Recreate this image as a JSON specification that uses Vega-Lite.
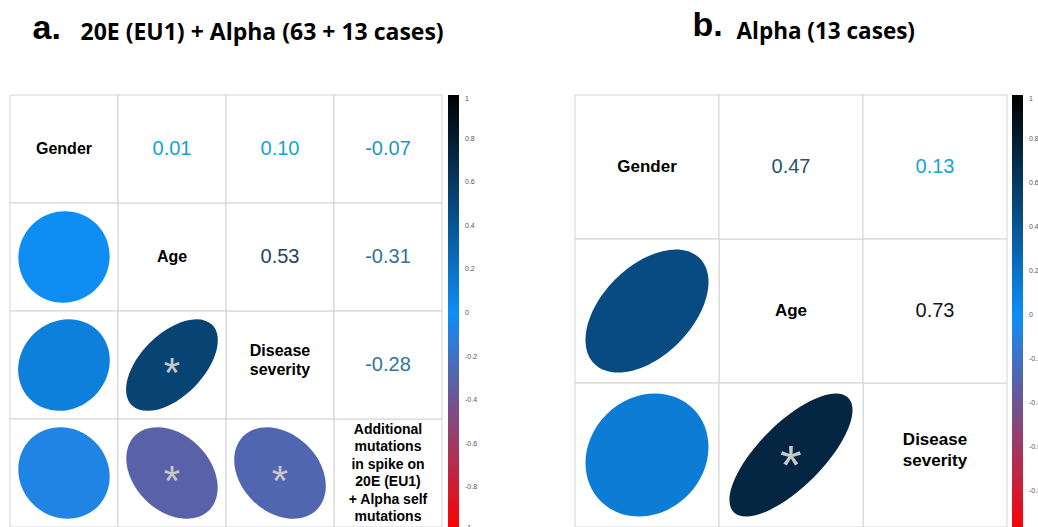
{
  "$schema": "https://vega.github.io/schema/vega-lite/v6.json",
  "background": "white",
  "padding": {"left": 9, "top": 9, "right": 0, "bottom": 0},
  "config": {
    "view": {"stroke": null},
    "locale": {"number": {"decimal": ".", "thousands": ",", "grouping": [3], "currency": ["$", ""], "minus": "-"}}
  },
  "datasets": {
    "a": [
      {"row": "Gender", "col": "Gender", "part": "diag", "label": "Gender"},
      {"row": "Age", "col": "Age", "part": "diag", "label": "Age"},
      {"row": "Disease", "col": "Disease", "part": "diag2", "label": "Disease\nseverity"},
      {"row": "Additional", "col": "Additional", "part": "long", "label": "Additional\nmutations\nin spike on\n20E (EU1)\n+ Alpha self\nmutations"},
      {"row": "Gender", "col": "Age", "part": "upper", "r": 0.01},
      {"row": "Gender", "col": "Disease", "part": "upper", "r": 0.10},
      {"row": "Gender", "col": "Additional", "part": "upper", "r": -0.07},
      {"row": "Age", "col": "Disease", "part": "upper", "r": 0.53},
      {"row": "Age", "col": "Additional", "part": "upper", "r": -0.31},
      {"row": "Disease", "col": "Additional", "part": "upper", "r": -0.28},
      {"row": "Age", "col": "Gender", "part": "lower", "r": 0.01, "sig": false},
      {"row": "Disease", "col": "Gender", "part": "lower", "r": 0.10, "sig": false},
      {"row": "Additional", "col": "Gender", "part": "lower", "r": -0.07, "sig": false},
      {"row": "Disease", "col": "Age", "part": "lower", "r": 0.53, "sig": true},
      {"row": "Additional", "col": "Age", "part": "lower", "r": -0.31, "sig": true},
      {"row": "Additional", "col": "Disease", "part": "lower", "r": -0.28, "sig": true}
    ],
    "b": [
      {"row": "Gender", "col": "Gender", "part": "diag", "label": "Gender"},
      {"row": "Age", "col": "Age", "part": "diag", "label": "Age"},
      {"row": "Disease", "col": "Disease", "part": "diag2", "label": "Disease\nseverity"},
      {"row": "Gender", "col": "Age", "part": "upper", "r": 0.47},
      {"row": "Gender", "col": "Disease", "part": "upper", "r": 0.13},
      {"row": "Age", "col": "Disease", "part": "upper", "r": 0.73},
      {"row": "Age", "col": "Gender", "part": "lower", "r": 0.47, "sig": false},
      {"row": "Disease", "col": "Gender", "part": "lower", "r": 0.13, "sig": false},
      {"row": "Disease", "col": "Age", "part": "lower", "r": 0.73, "sig": true}
    ]
  },
  "hconcat": [
    {
      "title": {"text": "a.", "font": "Liberation Sans", "fontSize": 34, "fontWeight": "bold", "anchor": "start", "dx": 23, "dy": 51, "offset": 0, "baseline": "alphabetic", "color": "#000000"},
      "resolve": {"scale": {"fill": "independent", "color": "independent", "shape": "independent"}, "legend": {"fill": "independent"}},
      "vconcat": [
        {
          "title": {"text": "20E (EU1) + Alpha (63 + 13 cases)", "font": "Open Sans", "fontSize": 23, "fontWeight": "bold", "anchor": "start", "dx": 71, "offset": 32, "baseline": "alphabetic", "color": "#000000"},
          "width": 432,
          "height": 432,
          "data": {"name": "a"},
          "encoding": {
            "x": {"field": "col", "type": "nominal", "scale": {"domain": ["Gender", "Age", "Disease", "Additional"], "paddingInner": 0, "paddingOuter": 0}, "axis": null},
            "y": {"field": "row", "type": "nominal", "scale": {"domain": ["Gender", "Age", "Disease", "Additional"], "paddingInner": 0, "paddingOuter": 0}, "axis": null}
          },
          "layer": [
            {"mark": {"type": "rect", "fill": "#ffffff", "stroke": "#d4d4d4", "strokeWidth": 1}},
            {
              "transform": [{"filter": "datum.part == 'lower'"}],
              "mark": {"type": "point", "filled": true, "size": 8464, "opacity": 1, "strokeWidth": 0},
              "encoding": {
                "shape": {"field": "r", "type": "nominal", "legend": null, "scale": {
                  "domain": [0.01, 0.1, -0.07, 0.53, -0.31, -0.28],
                  "range": [
                    "M -0.7106 0.7106 A 1.005 0.995 -45 0 1 0.7106 -0.7106 A 1.005 0.995 -45 0 1 -0.7106 0.7106 Z",
                    "M -0.7416 0.7416 A 1.0488 0.9487 -45 0 1 0.7416 -0.7416 A 1.0488 0.9487 -45 0 1 -0.7416 0.7416 Z",
                    "M -0.7314 -0.7314 A 1.0344 0.9644 45 0 1 0.7314 0.7314 A 1.0344 0.9644 45 0 1 -0.7314 -0.7314 Z",
                    "M -0.8746 0.8746 A 1.2369 0.6856 -45 0 1 0.8746 -0.8746 A 1.2369 0.6856 -45 0 1 -0.8746 0.8746 Z",
                    "M -0.8093 -0.8093 A 1.1446 0.8307 45 0 1 0.8093 0.8093 A 1.1446 0.8307 45 0 1 -0.8093 -0.8093 Z",
                    "M -0.8 -0.8 A 1.1314 0.8485 45 0 1 0.8 0.8 A 1.1314 0.8485 45 0 1 -0.8 -0.8 Z"
                  ]}},
                "fill": {"field": "r", "type": "quantitative", "scale": {"domain": [-1, 0, 1], "range": ["#ff0000", "#0e8ef5", "#000000"], "interpolate": "rgb"},
                  "legend": {"title": null, "direction": "vertical", "orient": "right", "offset": 6, "padding": 0, "gradientLength": 436, "gradientThickness": 11, "gradientStrokeWidth": 0, "values": [1, 0.8, 0.6, 0.4, 0.2, 0, -0.2, -0.4, -0.6, -0.8, -1], "format": ".1~f", "labelFontSize": 7, "labelColor": "#555555", "labelFont": "Liberation Sans", "labelOffset": 6}}
              }
            },
            {
              "transform": [{"filter": "datum.part == 'upper'"}],
              "mark": {"type": "text", "font": "Liberation Sans", "fontSize": 20, "baseline": "middle", "align": "center"},
              "encoding": {
                "text": {"field": "r", "type": "quantitative", "format": ".2f"},
                "color": {"field": "r", "type": "quantitative", "legend": null, "scale": {"domain": [-1, -0.3, 0, 0.15, 0.5, 0.75, 1], "range": ["#333333", "#34729c", "#14a2d4", "#14a6d6", "#2d4a68", "#111111", "#000000"], "interpolate": "rgb"}}
              }
            },
            {
              "transform": [{"filter": "datum.part == 'diag'"}],
              "mark": {"type": "text", "font": "Liberation Sans", "fontWeight": "bold", "fontSize": 16, "baseline": "middle", "align": "center", "fill": "#000000"},
              "encoding": {"text": {"field": "label", "type": "nominal"}}
            },
            {
              "transform": [{"filter": "datum.part == 'diag2'"}],
              "mark": {"type": "text", "font": "Liberation Sans", "fontWeight": "bold", "fontSize": 16, "lineBreak": "\n", "lineHeight": 19, "baseline": "middle", "align": "center", "dy": -14.5, "fill": "#000000"},
              "encoding": {"text": {"field": "label", "type": "nominal"}}
            },
            {
              "transform": [{"filter": "datum.part == 'long'"}],
              "mark": {"type": "text", "font": "Liberation Sans", "fontWeight": "bold", "fontSize": 14, "lineBreak": "\n", "lineHeight": 17.5, "baseline": "middle", "align": "center", "dy": -43.5, "fill": "#000000"},
              "encoding": {"text": {"field": "label", "type": "nominal"}}
            },
            {
              "transform": [{"filter": "datum.sig == true"}],
              "mark": {"type": "text", "text": "*", "font": "Liberation Sans", "fontSize": 42, "baseline": "alphabetic", "align": "center", "dy": 21.6, "fill": "#c8c8c8"}
            }
          ]
        }
      ]
    },
    {
      "title": {"text": "b.", "font": "Liberation Sans", "fontSize": 34, "fontWeight": "bold", "anchor": "start", "dx": 118, "dy": 49, "offset": 0, "baseline": "alphabetic", "color": "#000000"},
      "resolve": {"scale": {"fill": "independent", "color": "independent", "shape": "independent"}, "legend": {"fill": "independent"}},
      "vconcat": [
        {
          "title": {"text": "Alpha (13 cases)", "font": "Open Sans", "fontSize": 22.5, "fontWeight": "bold", "anchor": "start", "dx": 162, "offset": 33, "baseline": "alphabetic", "color": "#000000"},
          "width": 432,
          "height": 432,
          "data": {"name": "b"},
          "encoding": {
            "x": {"field": "col", "type": "nominal", "scale": {"domain": ["Gender", "Age", "Disease"], "paddingInner": 0, "paddingOuter": 0}, "axis": null},
            "y": {"field": "row", "type": "nominal", "scale": {"domain": ["Gender", "Age", "Disease"], "paddingInner": 0, "paddingOuter": 0}, "axis": null}
          },
          "layer": [
            {"mark": {"type": "rect", "fill": "#ffffff", "stroke": "#d4d4d4", "strokeWidth": 1}},
            {
              "transform": [{"filter": "datum.part == 'lower'"}],
              "mark": {"type": "point", "filled": true, "size": 15129, "opacity": 1, "strokeWidth": 0},
              "encoding": {
                "shape": {"field": "r", "type": "nominal", "legend": null, "scale": {
                  "domain": [0.47, 0.13, 0.73],
                  "range": [
                    "M -0.8573 0.8573 A 1.2124 0.728 -45 0 1 0.8573 -0.8573 A 1.2124 0.728 -45 0 1 -0.8573 0.8573 Z",
                    "M -0.7517 0.7517 A 1.063 0.9327 -45 0 1 0.7517 -0.7517 A 1.063 0.9327 -45 0 1 -0.7517 0.7517 Z",
                    "M -0.9301 0.9301 A 1.3153 0.5196 -45 0 1 0.9301 -0.9301 A 1.3153 0.5196 -45 0 1 -0.9301 0.9301 Z"
                  ]}},
                "fill": {"field": "r", "type": "quantitative", "scale": {"domain": [-1, 0, 1], "range": ["#ff0000", "#0e8ef5", "#000000"], "interpolate": "rgb"},
                  "legend": {"title": null, "direction": "vertical", "orient": "right", "offset": 5, "padding": 0, "gradientLength": 440, "gradientThickness": 11, "gradientStrokeWidth": 0, "values": [1, 0.8, 0.6, 0.4, 0.2, 0, -0.2, -0.4, -0.6, -0.8, -1], "format": ".1~f", "labelFontSize": 7, "labelColor": "#555555", "labelFont": "Liberation Sans", "labelOffset": 6}}
              }
            },
            {
              "transform": [{"filter": "datum.part == 'upper'"}],
              "mark": {"type": "text", "font": "Liberation Sans", "fontSize": 20, "baseline": "middle", "align": "center"},
              "encoding": {
                "text": {"field": "r", "type": "quantitative", "format": ".2f"},
                "color": {"field": "r", "type": "quantitative", "legend": null, "scale": {"domain": [-1, -0.3, 0, 0.15, 0.5, 0.75, 1], "range": ["#333333", "#34729c", "#14a2d4", "#14a6d6", "#2d4a68", "#111111", "#000000"], "interpolate": "rgb"}}
              }
            },
            {
              "transform": [{"filter": "datum.part == 'diag'"}],
              "mark": {"type": "text", "font": "Liberation Sans", "fontWeight": "bold", "fontSize": 17, "baseline": "middle", "align": "center", "fill": "#000000"},
              "encoding": {"text": {"field": "label", "type": "nominal"}}
            },
            {
              "transform": [{"filter": "datum.part == 'diag2'"}],
              "mark": {"type": "text", "font": "Liberation Sans", "fontWeight": "bold", "fontSize": 17, "lineBreak": "\n", "lineHeight": 21, "baseline": "middle", "align": "center", "dy": -15, "fill": "#000000"},
              "encoding": {"text": {"field": "label", "type": "nominal"}}
            },
            {
              "transform": [{"filter": "datum.sig == true"}],
              "mark": {"type": "text", "text": "*", "font": "Liberation Sans", "fontSize": 56, "baseline": "alphabetic", "align": "center", "dy": 29.4, "fill": "#c8c8c8"}
            }
          ]
        }
      ]
    }
  ],
  "spacing": 96,
  "resolve": {"scale": {"fill": "independent", "color": "independent", "shape": "independent"}, "legend": {"fill": "independent"}}
}
